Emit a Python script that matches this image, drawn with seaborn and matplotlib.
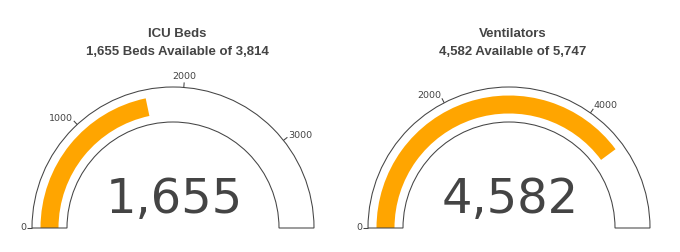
import numpy as np
import matplotlib
matplotlib.use("Agg")
import matplotlib.pyplot as plt
from matplotlib.patches import Wedge
import seaborn as sns

# ---- data ----
titles = ["ICU Beds", "Ventilators"]
subtitles = ["1,655 Beds Available of 3,814", "4,582 Available of 5,747"]
values = [1655, 4582]
maxima = [3814, 5747]
tick_values = [[0, 1000, 2000, 3000], [0, 2000, 4000]]
tick_labels = [["0", "1000", "2000", "3000"], ["0", "2000", "4000"]]

sns.set_theme(style="white")
plt.rcParams['font.family'] = ['DejaVu Sans']

W, H = 680, 252
fig = plt.figure(figsize=(6.8, 2.52), dpi=100)
fig.patch.set_facecolor("white")
ax = fig.add_axes([0, 0, 1, 1])
ax.set_xlim(0, W)
ax.set_ylim(0, H)
ax.axis('off')

centers_x = [173, 509]
cy = H - 228
R_out, R_in = 141, 106
bar_w = 18
bar_mid = (R_out + R_in) / 2
TEXT = '#444444'
BAR = '#FFA500'


def ang(v, vmax):
    return 180 - 180 * v / vmax


for i in range(2):
    cx = centers_x[i]
    a = ang(values[i], maxima[i])
    ax.add_patch(Wedge((cx, cy), bar_mid + bar_w / 2, a, 180, width=bar_w,
                       facecolor=BAR, edgecolor='none'))
    ax.add_patch(Wedge((cx, cy), R_out, 0, 180, width=R_out - R_in,
                       facecolor='none', edgecolor=TEXT, linewidth=0.75))
    for t, lab in zip(tick_values[i], tick_labels[i]):
        th = np.deg2rad(ang(t, maxima[i]))
        c, s = np.cos(th), np.sin(th)
        ax.plot([cx + R_out * c, cx + (R_out + 5) * c],
                [cy + R_out * s, cy + (R_out + 5) * s], color=TEXT, lw=0.75,
                solid_capstyle='butt')
        rx, ry = cx + 147 * c, cy + 147 * s
        if abs(c) < 0.3:
            ax.text(rx, ry, lab, ha='center', va='bottom', fontsize=6.8, color=TEXT)
        else:
            ax.text(rx, ry + 2.5 * s, lab, ha='right' if c < 0 else 'left',
                    va='center', fontsize=6.8, color=TEXT)
    ax.text(cx + 1, H - 213, f"{values[i]:,}", ha='center', va='baseline',
            fontsize=34.5, color=TEXT)
    ax.text(cx + 4, H - 36.7, titles[i], ha='center', va='baseline',
            fontsize=9.5, weight='bold', color=TEXT, family=['Liberation Sans'])
    ax.text(cx + 4, H - 55, subtitles[i], ha='center', va='baseline',
            fontsize=9.5, weight='bold', color=TEXT, family=['Liberation Sans'])

fig.savefig("out.png", dpi=100, facecolor="white")
